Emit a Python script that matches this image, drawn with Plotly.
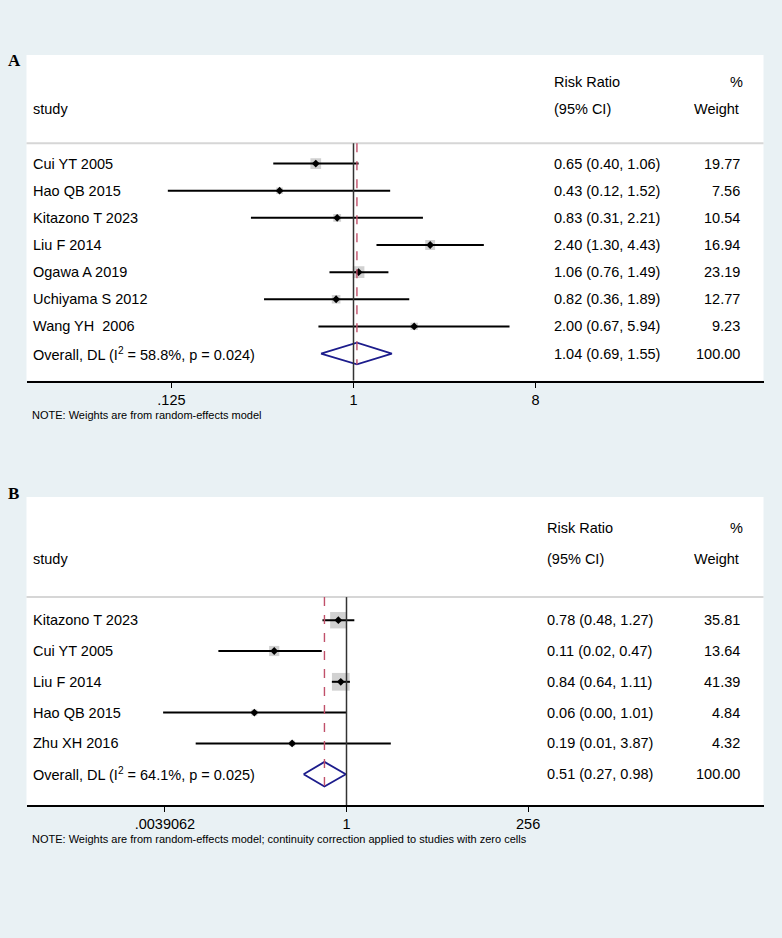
import math
import plotly.graph_objects as go

# ---------------- data ----------------
studies_a = ["Cui YT 2005", "Hao QB 2015", "Kitazono T 2023", "Liu F 2014",
             "Ogawa A 2019", "Uchiyama S 2012", "Wang YH  2006"]
rr_a = [0.65, 0.43, 0.83, 2.40, 1.06, 0.82, 2.00]
lo_a = [0.40, 0.12, 0.31, 1.30, 0.76, 0.36, 0.67]
hi_a = [1.06, 1.52, 2.21, 4.43, 1.49, 1.89, 5.94]
w_a = [19.77, 7.56, 10.54, 16.94, 23.19, 12.77, 9.23]
overall_a = [1.04, 0.69, 1.55]
overall_label_a = "Overall, DL (I<sup>2</sup> = 58.8%, p = 0.024)"
tickvals_a = [0.125, 1, 8]
ticktext_a = [".125", "1", "8"]
note_a = "NOTE: Weights are from random-effects model"

studies_b = ["Kitazono T 2023", "Cui YT 2005", "Liu F 2014", "Hao QB 2015", "Zhu XH 2016"]
rr_b = [0.78, 0.11, 0.84, 0.06, 0.19]
lo_b = [0.48, 0.02, 0.64, 0.0037, 0.01]
hi_b = [1.27, 0.47, 1.11, 1.01, 3.87]
w_b = [35.81, 13.64, 41.39, 4.84, 4.32]
overall_b = [0.51, 0.27, 0.98]
overall_label_b = "Overall, DL (I<sup>2</sup> = 64.1%, p = 0.025)"
tickvals_b = [0.00390625, 1, 256]
ticktext_b = [".0039062", "1", "256"]
note_b = ("NOTE: Weights are from random-effects model; continuity correction "
          "applied to studies with zero cells")

# ---------------- style ----------------
W, H = 782, 938
BG = "#E9F1F4"
FONT = "Liberation Sans, Arial, sans-serif"
SQ_COLOR = "#BDBDBD"
DIAM_COLOR = "#1C1C8C"
RED = "#C0506A"
FS = 14.5

def px(x):
    return x / W

def py(y):
    return 1 - y / H

fig = go.Figure()
annotations = []
shapes = []

def panel(idx, studies, rr, lo, hi, w, overall, overall_label, tickvals, ticktext,
          note, top_px, axis_px, one_px, px_per_log2, ci_x_px, sq_k, label, label_px):
    xa = "x" if idx == 1 else "x%d" % idx
    ya = "y" if idx == 1 else "y%d" % idx
    n = len(studies)
    rows = list(range(1, n + 1))
    ov_row = n + 1
    y_bottom = n + 2
    xs, ys = [], []
    for i, l, h in zip(rows, lo, hi):
        xs += [l, h, None]
        ys += [i, i, None]
    fig.add_trace(go.Scatter(x=rr, y=rows, mode="markers", xaxis=xa, yaxis=ya,
                             marker=dict(symbol="square", color=SQ_COLOR,
                                         size=[sq_k * math.sqrt(v) for v in w],
                                         line=dict(width=0)),
                             hoverinfo="skip", showlegend=False))
    fig.add_trace(go.Scatter(x=xs, y=ys, mode="lines", xaxis=xa, yaxis=ya,
                             line=dict(color="black", width=2),
                             hoverinfo="skip", showlegend=False))
    fig.add_trace(go.Scatter(x=rr, y=rows, mode="markers", xaxis=xa, yaxis=ya,
                             marker=dict(symbol="diamond", color="black", size=6),
                             hoverinfo="skip", showlegend=False))
    o_rr, o_lo, o_hi = overall
    fig.add_trace(go.Scatter(x=[o_lo, o_rr, o_hi, o_rr, o_lo],
                             y=[ov_row, ov_row - 0.4, ov_row, ov_row + 0.4, ov_row],
                             mode="lines", xaxis=xa, yaxis=ya,
                             line=dict(color=DIAM_COLOR, width=1.8),
                             hoverinfo="skip", showlegend=False))
    shapes.append(dict(type="line", xref=xa + " domain", yref=ya, x0=0, x1=1,
                       y0=0.25, y1=0.25, line=dict(color="#D6D6D6", width=2)))
    shapes.append(dict(type="line", xref=xa, yref=ya, x0=1, x1=1, y0=0.25,
                       y1=y_bottom, line=dict(color="#333333", width=1.5)))
    shapes.append(dict(type="line", xref=xa, yref=ya, x0=o_rr, x1=o_rr, y0=0.25,
                       y1=ov_row + 0.4, line=dict(color=RED, width=1.4, dash="dash")))

    def txt(x, y, s, anchor):
        annotations.append(dict(xref="paper", yref=ya, x=x, y=y, text=s,
                                xanchor=anchor, yanchor="middle", showarrow=False,
                                font=dict(family=FONT, size=FS, color="black")))
    txt(px(31), -1, "study", "left")
    txt(px(ci_x_px), -2, "Risk Ratio", "left")
    txt(px(ci_x_px), -1, "(95% CI)", "left")
    txt(px(745), -2, "%", "right")
    txt(px(741), -1, "Weight", "right")
    for i, s, r, l, h, wt in zip(rows, studies, rr, lo, hi, w):
        txt(px(31), i, s, "left")
        txt(px(ci_x_px), i, "%.2f (%.2f, %.2f)" % (r, l, h), "left")
        txt(px(742), i, "%.2f" % wt, "right")
    txt(px(31), ov_row, overall_label, "left")
    txt(px(ci_x_px), ov_row, "%.2f (%.2f, %.2f)" % (o_rr, o_lo, o_hi), "left")
    txt(px(742), ov_row, "%.2f" % sum(w), "right")

    annotations.append(dict(xref="paper", yref="paper", x=px(30),
                            y=py(axis_px + 34), text=note, xanchor="left",
                            yanchor="middle", showarrow=False,
                            font=dict(family=FONT, size=11, color="black")))
    annotations.append(dict(xref="paper", yref="paper", x=px(label_px[0]),
                            y=py(label_px[1]), text="<b>%s</b>" % label,
                            xanchor="center", yanchor="middle", showarrow=False,
                            font=dict(family="Liberation Serif, Times New Roman, serif",
                                      size=17, color="black")))

    left_px, right_px = 26.5, 763.5
    lo_log10 = (left_px - one_px) / px_per_log2 * math.log10(2)
    hi_log10 = (right_px - one_px) / px_per_log2 * math.log10(2)
    xkey = "xaxis" if idx == 1 else "xaxis%d" % idx
    ykey = "yaxis" if idx == 1 else "yaxis%d" % idx
    fig.layout[xkey] = dict(type="log", domain=[px(left_px), px(right_px)],
                            range=[lo_log10, hi_log10], anchor=ya,
                            showgrid=False, zeroline=False, showline=True,
                            linecolor="black", linewidth=1.6, ticks="outside",
                            ticklen=5, tickcolor="black", tickwidth=1.3,
                            tickvals=tickvals, ticktext=ticktext,
                            tickfont=dict(family=FONT, size=FS, color="black"))
    fig.layout[ykey] = dict(domain=[py(axis_px), py(top_px)], range=[y_bottom, -3],
                            anchor=xa, visible=False, showgrid=False, zeroline=False)

panel(1, studies_a, rr_a, lo_a, hi_a, w_a, overall_a, overall_label_a,
      tickvals_a, ticktext_a, note_a, top_px=55, axis_px=380.7, one_px=353.5,
      px_per_log2=60.7, ci_x_px=552, sq_k=2.4, label="A", label_px=(14, 60))
panel(2, studies_b, rr_b, lo_b, hi_b, w_b, overall_b, overall_label_b,
      tickvals_b, ticktext_b, note_b, top_px=497, axis_px=805, one_px=346.5,
      px_per_log2=22.7, ci_x_px=545, sq_k=2.75, label="B", label_px=(13, 494))

fig.update_layout(width=W, height=H, margin=dict(l=0, r=0, t=0, b=0),
                  paper_bgcolor=BG, plot_bgcolor="white", showlegend=False,
                  annotations=annotations, shapes=shapes)
fig.write_html("out.html", config={"displayModeBar": False},
               post_script="document.body.style.margin='0';"
                           "document.body.style.overflow='hidden';")
